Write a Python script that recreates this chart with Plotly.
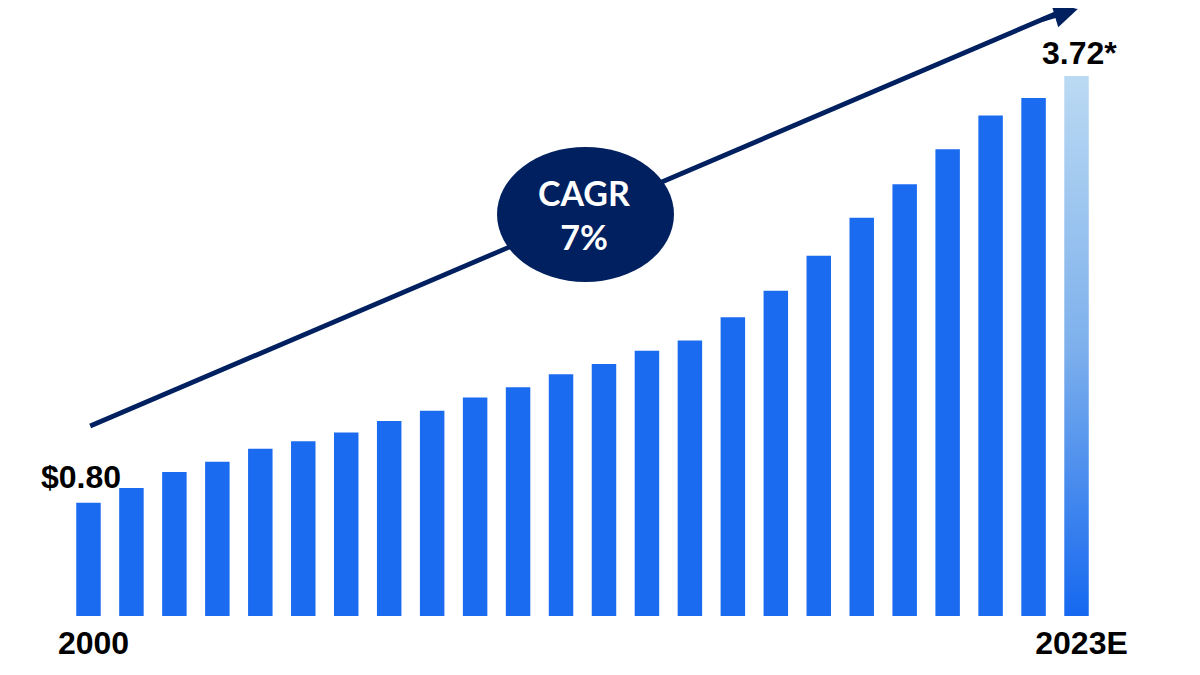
import plotly.graph_objects as go

# Dados
anos = [str(a) for a in range(2000, 2023)] + ["2023E"]
valores = [0.80, 0.90, 1.01, 1.08, 1.17, 1.22, 1.28, 1.36, 1.43, 1.52, 1.59, 1.68,
           1.75, 1.84, 1.91, 2.07, 2.25, 2.49, 2.75, 2.98, 3.22, 3.45, 3.57, 3.72]
rotulo_inicio = "$0.80"
rotulo_fim = "3.72*"
texto_cagr = "CAGR<br>7%"

AZUL = "#1B6BF0"
MARINHO = "#002060"
largura = 0.57
pos = list(range(len(anos)))
ultimo = pos[-1]

fig = go.Figure()

# barras normais (a ultima fica transparente, desenhada com gradiente abaixo)
cores = [AZUL] * (len(valores) - 1) + ["rgba(0,0,0,0)"]
fig.add_trace(go.Bar(
    x=pos, y=valores, width=largura,
    marker=dict(color=cores, line=dict(width=0)),
    hoverinfo="skip", showlegend=False
))

# ultima barra com gradiente vertical
fig.add_trace(go.Scatter(
    x=[ultimo - largura / 2, ultimo + largura / 2],
    y=[valores[-1], valores[-1]],
    mode="lines", line=dict(width=0),
    fill="tozeroy",
    fillgradient=dict(
        type="vertical",
        start=0, stop=valores[-1],
        colorscale=[[0, "#1467F0"], [0.5, "#7DB0EC"], [1, "#BBDAF3"]]
    ),
    hoverinfo="skip", showlegend=False
))

fonte_bold = dict(family="Liberation Sans, Arial, sans-serif", size=32, color="black")

# seta de tendencia (linha atras da elipse)
fig.add_shape(type="line", xref="paper", yref="paper",
              x0=0.0225, y0=0.3125, x1=0.9766, y1=1.0033,
              line=dict(color=MARINHO, width=4.8), layer="above")
fig.add_shape(type="circle", xref="x", yref="y",
              x0=9.51, x1=13.63, y0=2.311, y1=3.235,
              fillcolor=MARINHO, line=dict(width=0), layer="above")

fig.add_annotation(x=0.9804, y=1.0066, xref="paper", yref="paper", text="",
                   showarrow=True, ax=-37, ay=16, arrowhead=2, arrowsize=1,
                   arrowwidth=4.8, arrowcolor=MARINHO)

fig.add_annotation(x=11.54, y=2.77, xref="x", yref="y", text="<b>" + texto_cagr + "</b>",
                   showarrow=False,
                   font=dict(family="Liberation Sans Narrow, Lato, sans-serif", size=34, color="white"))

fig.add_annotation(x=pos[0], y=valores[0], text="<b>" + rotulo_inicio + "</b>",
                   showarrow=False, yanchor="middle", xshift=-7, yshift=26, font=fonte_bold)
fig.add_annotation(x=ultimo, y=valores[-1], text="<b>" + rotulo_fim + "</b>",
                   showarrow=False, yanchor="middle", xshift=3, yshift=23, font=fonte_bold)

fig.update_layout(
    width=1200, height=675,
    margin=dict(l=59, r=110, t=0, b=67),
    plot_bgcolor="white", paper_bgcolor="white",
    showlegend=False
)
fig.update_xaxes(
    range=[-0.5, len(anos) - 0.5],
    tickvals=[pos[0], ultimo], ticktext=["<b>" + anos[0] + "</b>", "<b>" + anos[-1] + "</b>"],
    tickfont=fonte_bold, showgrid=False, zeroline=False, showline=False, ticks="",
    ticklabelshift=5, ticklabelstandoff=5
)
fig.update_yaxes(range=[0.0246, 4.186], visible=False, showgrid=False)

fig.write_html("out.html")
